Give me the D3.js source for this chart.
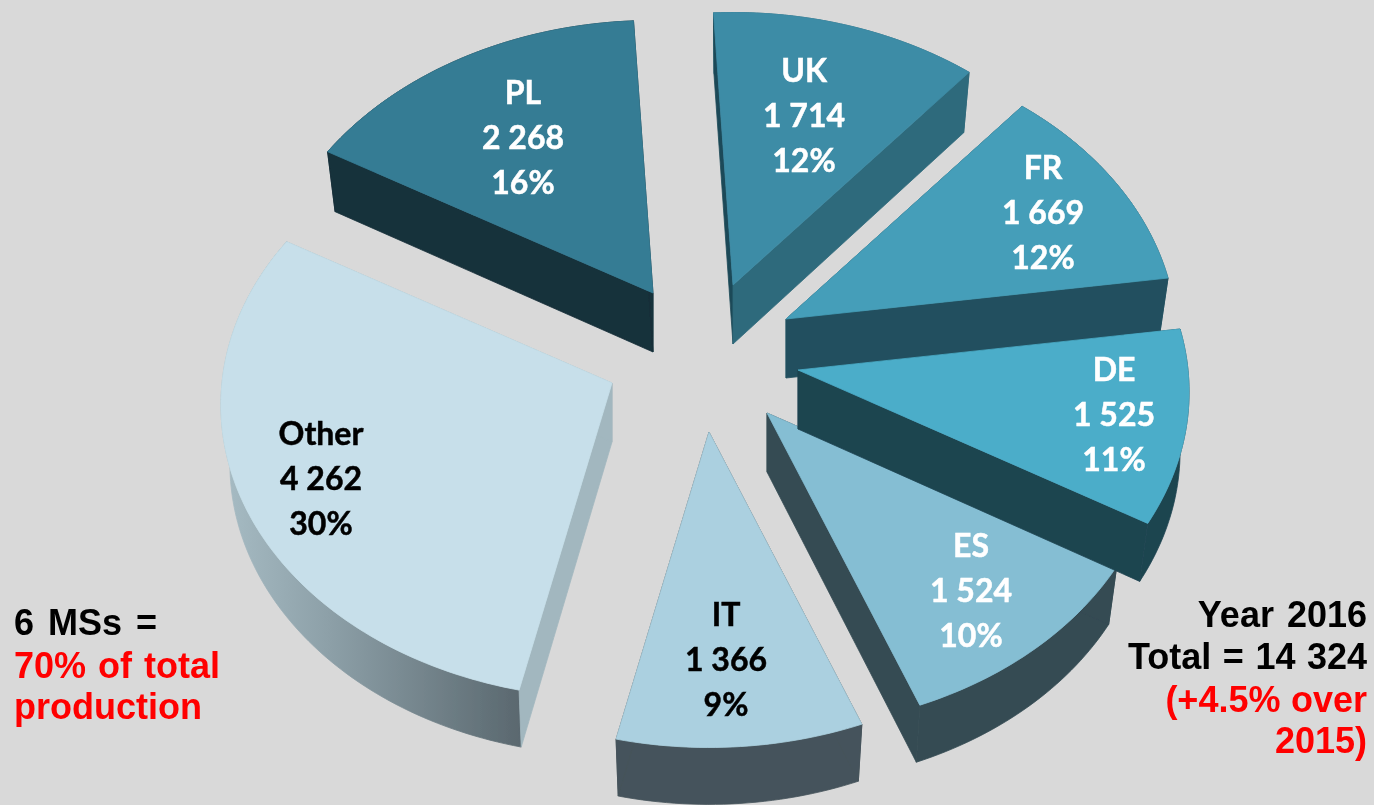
<!DOCTYPE html>
<html>
<head>
<meta charset="utf-8">
<script src="https://cdn.jsdelivr.net/npm/d3@7"></script>
<style>
html,body{margin:0;padding:0;background:#d9d9d9;overflow:hidden}
svg{display:block}
</style>
</head>
<body>
<svg id="chart" width="1374" height="805"></svg>
<script>
// --- data ---
const categories = ["UK", "FR", "DE", "ES", "IT", "Other", "PL"];
const production = [1714, 1669, 1525, 1524, 1366, 4262, 2268];
const sharePct = [12, 12, 11, 10, 9, 30, 16];

// --- styles per slice ---
const topColor   = ["#3e8ca6", "#459eb9", "#4badc9", "#85bed3", "#abd0e0", "#c7dfea", "#357c94"];
const startWall  = ["#1d4a58", "#22505f", "#1e4450", "#354b53", "#45535b", "#a2b7bf", "#15303a"];
const endWall    = ["#2f6a7b", "#22505f", "#1e4450", "#354b53", "#45535b", "#a2b7bf", "#15303a"];
const outerWall  = ["#2f6a7b", "#22505f", "#1e4450", "#354b53", "#45535b", "url(#otherWall)", "#15303a"];
const labelColor = ["#fff", "#fff", "#fff", "#fff", "#000", "#000", "#fff"];

// --- layout: explosion of each slice from the pie centre, label anchor relative to slice apex ---
const explodeX = [28, 81, 93, 62, 4, -93, -52];
const explodeY = [-75, -41, 10, 53, 72, 23, -67];
const labelDX  = [71, 257, 316, 204, 17, -291, -130];
const labelDY  = [-158, -95, 56, 189, 239, 107, -144];
const drawOrder = [6, 0, 1, 4, 5, 3, 2];

const W = 1374, H = 805;
const cx = 705, cy = 360;
const rx = 390, ryMean = 294, ryTilt = 21.5, xTilt = 0.075;
const depth = 58, startDeg = -3.1;

const svg = d3.select("#chart");
svg.append("rect").attr("width", W).attr("height", H).attr("fill", "#d9d9d9");

const defs = svg.append("defs");
const grad = defs.append("linearGradient").attr("id", "otherWall")
  .attr("gradientUnits", "userSpaceOnUse")
  .attr("x1", 0).attr("y1", 0).attr("x2", 295).attr("y2", 0);
grad.append("stop").attr("offset", 0).attr("stop-color", "#a6bbc3");
grad.append("stop").attr("offset", 0.35).attr("stop-color", "#8da0a8");
grad.append("stop").attr("offset", 1).attr("stop-color", "#5a686f");
const addBlur = (id, s) => defs.append("filter").attr("id", id)
  .attr("x", "-5%").attr("y", "-5%").attr("width", "110%").attr("height", "110%")
  .append("feGaussianBlur").attr("stdDeviation", s);
addBlur("soft", 0.45);
addBlur("softText", 0.35);
addBlur("softNote", 0.5);

const start = startDeg * Math.PI / 180;
const arcs = d3.pie().sort(null).startAngle(start).endAngle(start + 2 * Math.PI)(production);

// Perspective ellipse: far side is narrower and flatter than the near side.
const project = t => {
  const c = Math.cos(t), s = Math.sin(t);
  return [rx * s * (1 - xTilt * c), -c * (ryMean - ryTilt * c)];
};
const lower = ([x, y]) => [x * 0.977, y + depth + 1 - 2 * y / 300];
const line = d3.line();

const sampleArc = (a, b) => {
  const n = Math.max(2, Math.ceil(Math.abs(b - a) / 0.02));
  return d3.range(n + 1).map(i => project(a + (b - a) * i / n));
};

const pieG = svg.append("g").attr("filter", "url(#soft)");
drawOrder.forEach(i => {
  const d = arcs[i];
  const ax = cx + explodeX[i], ay = cy + explodeY[i];
  const g = pieG.append("g").attr("transform", `translate(${ax},${ay})`).attr("class", "slice");
  const rim = sampleArc(d.startAngle, d.endAngle);
  const apex = [0, 0];
  const quad = (p, q) => line([p, q, lower(q), lower(p)]) + "Z";
  const face = (path, fill) => g.append("path").attr("d", path).attr("fill", fill)
    .attr("stroke", fill).attr("stroke-width", 0.8).attr("stroke-linejoin", "round");
  // walls, then the top face over them
  if (categories[i] === "Other") {
    grad.attr("x1", 225 - ax).attr("x2", 520 - ax);
  }
  face(line(rim.concat(rim.map(lower).reverse())) + "Z", outerWall[i]);
  face(quad(apex, rim[0]), startWall[i]);
  face(quad(apex, rim[rim.length - 1]), endWall[i]);
  face(line([apex].concat(rim)) + "Z", topColor[i]);
});

// slice labels
const fmt = d3.formatLocale({decimal: ".", thousands: " ", grouping: [3], currency: ["", ""]}).format(",d");
const labelG = svg.append("g").attr("font-family", "Lato, Carlito, sans-serif").attr("font-weight", 700)
  .attr("font-size", 32).attr("text-anchor", "middle").attr("filter", "url(#softText)");
categories.forEach((c, i) => {
  const x = cx + explodeX[i] + labelDX[i], y = cy + explodeY[i] + labelDY[i];
  [c, fmt(production[i]), sharePct[i] + "%"].forEach((t, k) => {
    labelG.append("text").attr("x", x).attr("y", y + (k - 1) * 45)
      .attr("fill", labelColor[i]).attr("stroke", labelColor[i]).attr("stroke-width", 0.5).text(t);
  });
});

// side notes: text, colour, baseline, word spacing
const noteLeft = [["6 MSs =", "#000", 635, 4], ["70% of total", "#ff0000", 678, 2], ["production", "#ff0000", 719, 0]];
const noteRight = [["Year 2016", "#000", 627, 3], ["Total = 14 324", "#000", 669, 1.5], ["(+4.5% over", "#ff0000", 712, 0.5], ["2015)", "#ff0000", 753, 0]];
const noteG = svg.append("g").attr("font-family", "'Liberation Sans', Arial, sans-serif").attr("font-weight", 700)
  .attr("font-size", 36).attr("filter", "url(#softNote)");
noteG.selectAll("text.l").data(noteLeft).join("text").attr("class", "l")
  .attr("x", 14).attr("y", d => d[2]).attr("fill", d => d[1]).attr("word-spacing", d => d[3]).text(d => d[0]);
noteG.selectAll("text.r").data(noteRight).join("text").attr("class", "r")
  .attr("x", 1367).attr("y", d => d[2]).attr("text-anchor", "end").attr("fill", d => d[1]).attr("word-spacing", d => d[3]).text(d => d[0]);
</script>
</body>
</html>
